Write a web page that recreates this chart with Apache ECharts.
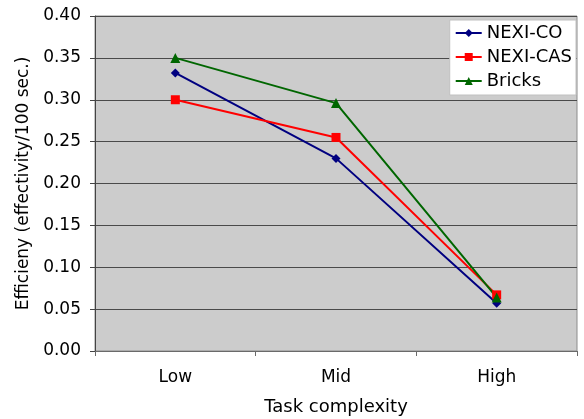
<!DOCTYPE html>
<html>
<head>
<meta charset="utf-8">
<script src="https://cdn.jsdelivr.net/npm/echarts@6/dist/echarts.min.js"></script>
<style>
  html, body { margin: 0; padding: 0; background: #ffffff; }
  #chart { width: 584px; height: 419px; }
</style>
</head>
<body>
<div id="chart"></div>
<script>
// Task complexity levels on the x axis
const categories = ['Low', 'Mid', 'High'];

// Efficiency per approach (effectivity per 100 seconds)
const nexiCO = [0.332, 0.230, 0.057];
const nexiCAS = [0.300, 0.255, 0.067];
const bricks = [0.350, 0.296, 0.064];

const yTicks = { min: 0, max: 0.40, interval: 0.05 };

const FONT = 'DejaVu Sans';

const chart = echarts.init(document.getElementById('chart'), null, { renderer: 'canvas' });

function lineSeries(name, data, color, symbol, size) {
  return {
    name: name,
    type: 'line',
    data: data,
    symbol: symbol,
    symbolSize: size,
    lineStyle: { color: color, width: 2 },
    itemStyle: { color: color },
    emphasis: { disabled: true },
    animation: false
  };
}

chart.setOption({
  animation: false,
  textStyle: { fontFamily: FONT },
  grid: {
    left: 95, right: 7, top: 16, bottom: 68,
    outerBoundsMode: 'none',
    containLabel: false,
    show: true,
    backgroundColor: '#cccccc',
    borderColor: '#8c8c8c',
    borderWidth: 1
  },
  legend: {
    data: ['NEXI-CO', 'NEXI-CAS', 'Bricks'],
    orient: 'vertical',
    right: 8,
    top: 20,
    backgroundColor: '#ffffff',
    borderColor: '#c0c0c0',
    borderWidth: 1,
    padding: [4, 4, 5, 5],
    itemGap: 6,
    itemWidth: 26,
    itemHeight: 10,
    textStyle: { fontFamily: FONT, fontSize: 18, color: '#000000', padding: [0, 0, 0, 0] }
  },
  xAxis: {
    type: 'category',
    data: categories,
    boundaryGap: true,
    name: 'Task complexity',
    nameLocation: 'middle',
    nameGap: 47,
    nameTextStyle: { fontFamily: FONT, fontSize: 18, color: '#000000' },
    axisLine: { show: true, lineStyle: { color: '#6a6a6a', width: 1 } },
    axisTick: { show: true, length: 5, lineStyle: { color: '#6a6a6a' } },
    axisLabel: { fontFamily: FONT, fontSize: 17, color: '#000000', margin: 18 },
    splitLine: { show: false }
  },
  yAxis: {
    type: 'value',
    min: yTicks.min,
    max: yTicks.max,
    interval: yTicks.interval,
    name: 'Efficieny (effectivity/100 sec.)',
    nameLocation: 'middle',
    nameGap: 61,
    nameTextStyle: { fontFamily: FONT, fontSize: 17, color: '#000000' },
    axisLine: { show: true, lineStyle: { color: '#444444', width: 1 } },
    axisTick: { show: true, length: 5, lineStyle: { color: '#444444' } },
    axisLabel: {
      fontFamily: FONT, fontSize: 17, color: '#000000', margin: 14,
      formatter: v => v.toFixed(2)
    },
    splitLine: { show: true, lineStyle: { color: '#4a4a4a', width: 1 } }
  },
  series: [
    lineSeries('NEXI-CO', nexiCO, '#000080', 'diamond', 9),
    lineSeries('NEXI-CAS', nexiCAS, '#ff0000', 'rect', 9),
    lineSeries('Bricks', bricks, '#006600', 'triangle', 10)
  ]
});
</script>
</body>
</html>
